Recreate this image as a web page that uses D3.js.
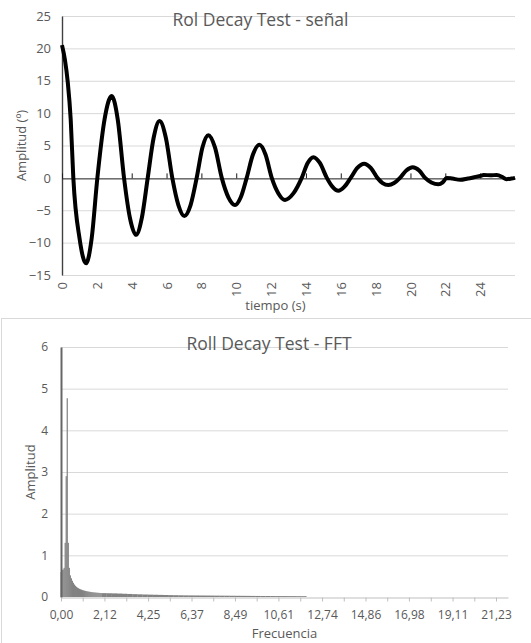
<!DOCTYPE html>
<html>
<head>
<meta charset="utf-8">
<script src="https://cdn.jsdelivr.net/npm/d3@7"></script>
<style>
  body { margin: 0; background: #fff; }
  text { font-family: "Open Sans", sans-serif; fill: #595959; }
</style>
</head>
<body>
<script>
// roll decay signal: time (s) and amplitude (deg)
var sigT = [0, 0.17, 0.33, 0.5, 0.65, 1.01, 1.38, 1.7, 2.03, 2.44, 2.85, 3.2, 3.56, 3.9, 4.25, 4.58, 4.92,
  5.26, 5.6, 5.96, 6.33, 6.68, 7.02, 7.38, 7.73, 8.06, 8.4, 8.78, 9.17, 9.55, 9.93, 10.26, 10.6,
  10.96, 11.33, 11.68, 12.04, 12.42, 12.8, 13.28, 13.76, 14.1, 14.43, 14.8, 15.2, 15.53, 15.86, 16.2, 16.57,
  16.95, 17.34, 17.72, 18.1, 18.4, 18.73, 19.06, 19.4, 19.76, 20.13, 20.5, 20.84, 21.2, 21.6, 21.85, 22.08,
  22.4, 22.85, 23.3, 23.6, 24.0, 24.2, 24.6, 24.95, 25.3, 25.5, 25.8, 26.0];
var sigV = [20.5, 18.2, 14.8, 9.0, 0, -9.4, -13.2, -9.4, 0, 9.0, 12.65, 9.0, 0, -6.2, -8.8, -6.2, 0,
  6.2, 8.8, 6.2, 0, -4.2, -5.9, -4.2, 0, 4.7, 6.6, 4.7, 0, -3.0, -4.2, -3.0, 0,
  3.6, 5.1, 3.6, 0, -2.4, -3.4, -2.4, 0, 2.3, 3.2, 2.3, 0, -1.4, -2.0, -1.4, 0,
  1.55, 2.2, 1.55, 0, -0.8, -1.1, -0.8, 0, 1.15, 1.65, 1.15, 0, -0.7, -1.0, -0.7, 0,
  -0.1, -0.3, -0.1, 0.05, 0.3, 0.45, 0.4, 0.45, 0.1, -0.2, -0.1, 0];
var sigXTicks = [0, 2, 4, 6, 8, 10, 12, 14, 16, 18, 20, 22, 24];
var sigYTicks = [-15, -10, -5, 0, 5, 10, 15, 20, 25];

// FFT amplitude: fine bins (0.05 Hz from 0) then coarse tail (0.25 Hz from 2 Hz)
var fftFineStep = 0.05;
var fftFine = [0.60, 0.65, 0.66, 0.70, 1.30, 2.90, 4.77, 1.30, 0.70, 0.52,
  0.45, 0.39, 0.34, 0.30, 0.27, 0.245, 0.225, 0.21, 0.195, 0.185,
  0.175, 0.165, 0.158, 0.151, 0.145, 0.139, 0.134, 0.129, 0.125, 0.121,
  0.117, 0.114, 0.111, 0.108, 0.105, 0.103, 0.101, 0.099, 0.097, 0.095];
var fftTailStart = 2.0, fftTailStep = 0.25;
var fftTail = [0.093, 0.09, 0.087, 0.083, 0.078, 0.073, 0.068, 0.064, 0.06, 0.057,
  0.054, 0.051, 0.048, 0.045, 0.043, 0.041, 0.039, 0.038, 0.037, 0.036,
  0.035, 0.034, 0.033, 0.032, 0.031, 0.030, 0.029, 0.028, 0.027, 0.026,
  0.025, 0.024, 0.024, 0.023, 0.022, 0.022, 0.021, 0.021, 0.020, 0.020];
var fftXTicks = [0, 2.12, 4.25, 6.37, 8.49, 10.61, 12.74, 14.86, 16.98, 19.11, 21.23];
var fftYTicks = [0, 1, 2, 3, 4, 5, 6];

var width = 531, height = 643;
var svg = d3.select("body").append("svg")
    .attr("width", width)
    .attr("height", height);

var esFormat = d3.formatLocale({decimal: ",", thousands: ".", grouping: [3], currency: ["", "€"]}).format(".2f");

// ---------- top chart: signal ----------
var x1 = d3.scaleLinear().domain([0, 26]).range([62, 515]);
var y1 = d3.scaleLinear().domain([-15, 25]).range([275, 16]);

svg.append("g")
    .selectAll("line")
    .data(sigYTicks.filter(function(d) { return d != 0; }))
    .enter().append("line")
    .attr("x1", x1.range()[0]).attr("x2", x1.range()[1])
    .attr("y1", function(d) { return y1(d) + 0.5; })
    .attr("y2", function(d) { return y1(d) + 0.5; })
    .attr("stroke", "#d9d9d9");

// y labels
var yAx1 = svg.append("g")
    .attr("transform", "translate(62,0)")
    .call(d3.axisLeft(y1).tickValues(sigYTicks).tickSize(0).tickPadding(11).tickFormat(d3.format("d")));
yAx1.select(".domain").attr("stroke", "#404040").attr("stroke-width", 1.4);
yAx1.selectAll("text").style("font-size", "13px").style("font-family", "Open Sans").attr("fill", "#595959");

// x labels, rotated, below the plot
var xAx1 = svg.append("g")
    .attr("transform", "translate(0,275)")
    .call(d3.axisBottom(x1).tickValues(sigXTicks).tickSize(0).tickFormat(d3.format("d")));
xAx1.select(".domain").remove();
xAx1.selectAll("text")
    .attr("transform", "rotate(-90)")
    .attr("x", -7).attr("y", 0).attr("dy", "0.35em")
    .attr("text-anchor", "end")
    .style("font-size", "13px").style("font-family", "Open Sans").attr("fill", "#595959");

// zero line with small ticks
var zAx1 = svg.append("g")
    .attr("transform", "translate(0," + (y1(0) + 0.5) + ")")
    .call(d3.axisTop(x1).tickValues(sigXTicks).tickSize(5).tickSizeOuter(0).tickFormat(""));
zAx1.select(".domain").attr("stroke", "#1a1a1a");
zAx1.selectAll(".tick line").attr("stroke", "#1a1a1a");

var sig = d3.zip(sigT, sigV);
svg.append("path")
    .datum(sig)
    .attr("fill", "none")
    .attr("stroke", "#000")
    .attr("stroke-width", 4)
    .attr("stroke-linejoin", "round")
    .attr("d", d3.line()
        .x(function(d) { return x1(d[0]); })
        .y(function(d) { return y1(d[1]); })
        .curve(d3.curveMonotoneX));

svg.append("text")
    .attr("x", 260.5).attr("y", 25.5)
    .attr("text-anchor", "middle")
    .style("font-size", "17.5px")
    .text("Rol Decay Test - señal");

svg.append("text")
    .attr("transform", "translate(26,145.5) rotate(-90)")
    .attr("text-anchor", "middle")
    .style("font-size", "13px")
    .text("Amplitud (º)");

svg.append("text")
    .attr("x", 275.5).attr("y", 310)
    .attr("text-anchor", "middle")
    .style("font-size", "13px")
    .text("tiempo (s)");

// ---------- bottom chart: FFT ----------
svg.append("rect")
    .attr("x", 1.5).attr("y", 318.5)
    .attr("width", 560).attr("height", 360)
    .attr("fill", "none")
    .attr("stroke", "#d9d9d9");

var x2 = d3.scaleLinear().domain([0, 21.815]).range([61, 508]);
var y2 = d3.scaleLinear().domain([0, 6]).range([597, 347]);

svg.append("g")
    .selectAll("line")
    .data(fftYTicks.filter(function(d) { return d != 0; }))
    .enter().append("line")
    .attr("x1", x2.range()[0]).attr("x2", x2.range()[1])
    .attr("y1", function(d) { return y2(d) + 0.5; })
    .attr("y2", function(d) { return y2(d) + 0.5; })
    .attr("stroke", "#d9d9d9");

var bins = fftFine.map(function(v, i) { return {f: i * fftFineStep, w: fftFineStep, v: v}; })
    .concat(fftTail.map(function(v, i) { return {f: fftTailStart + i * fftTailStep + fftTailStep / 2 - fftFineStep / 2, w: fftTailStep, v: v}; }));

svg.append("g")
    .selectAll("rect")
    .data(bins)
    .enter().append("rect")
    .attr("x", function(d) { return x2(d.f - d.w / 2); })
    .attr("width", function(d) { return x2(d.w) - x2(0) + 0.2; })
    .attr("y", function(d) { return y2(d.v); })
    .attr("height", function(d) { return y2(0) - y2(d.v); })
    .attr("fill", "#828282");

var minorTicks = [];
d3.pairs(fftXTicks).forEach(function(p) { minorTicks.push(p[0], (p[0] + p[1]) / 2); });
minorTicks.push(fftXTicks[fftXTicks.length - 1]);

var xAx2 = svg.append("g")
    .attr("transform", "translate(0,597.5)")
    .call(d3.axisBottom(x2).tickValues(minorTicks).tickSize(4).tickSizeOuter(0)
        .tickFormat(function(d) { return fftXTicks.indexOf(d) >= 0 ? esFormat(d) : ""; }));
xAx2.select(".domain").attr("stroke", "#bfbfbf");
xAx2.selectAll(".tick line").attr("stroke", "#bfbfbf");
xAx2.selectAll("text")
    .attr("y", 13)
    .style("font-size", "12px").style("font-family", "Open Sans").attr("fill", "#595959");

var yAx2 = svg.append("g")
    .attr("transform", "translate(61,0)")
    .call(d3.axisLeft(y2).tickValues(fftYTicks).tickSize(0).tickPadding(13).tickFormat(d3.format("d")));
yAx2.select(".domain").attr("stroke", "#666").attr("stroke-width", 2);
yAx2.selectAll("text").style("font-size", "12px").style("font-family", "Open Sans").attr("fill", "#595959");

svg.append("text")
    .attr("x", 269).attr("y", 350)
    .attr("text-anchor", "middle")
    .style("font-size", "17.5px")
    .text("Roll Decay Test - FFT");

svg.append("text")
    .attr("transform", "translate(35,472) rotate(-90)")
    .attr("text-anchor", "middle")
    .style("font-size", "13px")
    .text("Amplitud");

svg.append("text")
    .attr("x", 284.5).attr("y", 638)
    .attr("text-anchor", "middle")
    .style("font-size", "13px")
    .text("Frecuencia");
</script>
</body>
</html>
